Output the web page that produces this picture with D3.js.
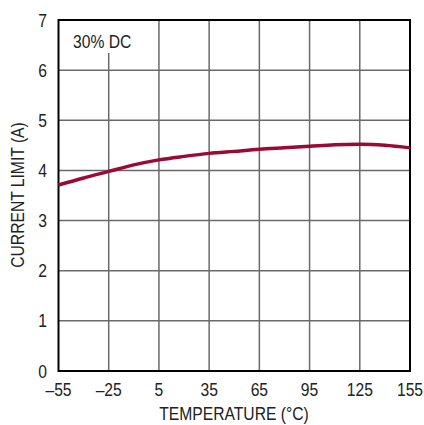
<!DOCTYPE html>
<html>
<head>
<meta charset="utf-8">
<script src="https://cdn.jsdelivr.net/npm/d3@7"></script>
<style>
  body { margin: 0; background: #fff; }
  text { font-family: "Liberation Sans Narrow", "Liberation Sans", Arial, sans-serif; fill: #222; }
</style>
</head>
<body>
<div id="chart"></div>
<script>
// data
var temps = [-55, -40, -25, -10, 5, 20, 35, 50, 65, 80, 95, 110, 125, 140, 155];
var currentLimit = [3.71, 3.85, 3.98, 4.11, 4.21, 4.28, 4.34, 4.38, 4.42, 4.45, 4.48, 4.51, 4.52, 4.50, 4.45];
var xTicks = [-55, -25, 5, 35, 65, 95, 125, 155];
var yTicks = [0, 1, 2, 3, 4, 5, 6, 7];
var note = "30% DC";

var width = 424, height = 425;
var margin = {left: 58.5, right: 14, top: 20, bottom: 54};
var fs = 18, squeeze = 0.87;

var svg = d3.select("#chart").append("svg")
  .attr("width", width)
  .attr("height", height);

var x = d3.scaleLinear().domain([-55, 155]).range([margin.left, width - margin.right]);
var y = d3.scaleLinear().domain([0, 7]).range([height - margin.bottom, margin.top]);

// condensed look: squeeze text sideways around its anchor
function place(px, py, rot){
  return "translate(" + px + "," + py + ")" + (rot ? " rotate(" + rot + ")" : "") + " scale(" + squeeze + ",1)";
}

// grid
svg.append("g").selectAll("line")
  .data(xTicks.slice(1, -1))
  .enter().append("line")
  .attr("x1", function(d){ return x(d); })
  .attr("x2", function(d){ return x(d); })
  .attr("y1", function(d){ return d == -25 ? 53 : y(7); })
  .attr("y2", y(0))
  .attr("stroke", "#6a6a6a")
  .attr("stroke-width", 1.5);

svg.append("g").selectAll("line")
  .data(yTicks.slice(1, -1))
  .enter().append("line")
  .attr("x1", x(-55))
  .attr("x2", x(155))
  .attr("y1", function(d){ return y(d); })
  .attr("y2", function(d){ return y(d); })
  .attr("stroke", "#6a6a6a")
  .attr("stroke-width", 1.5);

// frame
svg.append("rect")
  .attr("x", x(-55))
  .attr("y", y(7))
  .attr("width", x(155) - x(-55))
  .attr("height", y(0) - y(7))
  .attr("fill", "none")
  .attr("stroke", "#000")
  .attr("stroke-width", 2);

// tick labels
svg.append("g").selectAll("text")
  .data(xTicks)
  .enter().append("text")
  .attr("transform", function(d){ return place(x(d), 396); })
  .attr("text-anchor", "middle")
  .attr("font-size", fs)
  .text(function(d){ return d < 0 ? "\u2013" + Math.abs(d) : d; });

svg.append("g").selectAll("text")
  .data(yTicks)
  .enter().append("text")
  .attr("transform", function(d){ return place(47, y(d) + 6.5); })
  .attr("text-anchor", "end")
  .attr("font-size", fs)
  .text(function(d){ return d; });

// axis titles
svg.append("text")
  .attr("transform", place(234, 420))
  .attr("text-anchor", "middle")
  .attr("font-size", fs)
  .text("TEMPERATURE (\u00B0C)");

svg.append("text")
  .attr("transform", place(24, 195, -90))
  .attr("text-anchor", "middle")
  .attr("font-size", fs)
  .text("CURRENT LIMIT (A)");

svg.append("text")
  .attr("transform", place(73, 48))
  .attr("font-size", fs)
  .text(note);

// curve
var line = d3.line()
  .x(function(d, i){ return x(temps[i]); })
  .y(function(d){ return y(d); })
  .curve(d3.curveMonotoneX);

svg.append("path")
  .datum(currentLimit)
  .attr("d", line)
  .attr("fill", "none")
  .attr("stroke", "#9b0a33")
  .attr("stroke-width", 3.5);
</script>
</body>
</html>
